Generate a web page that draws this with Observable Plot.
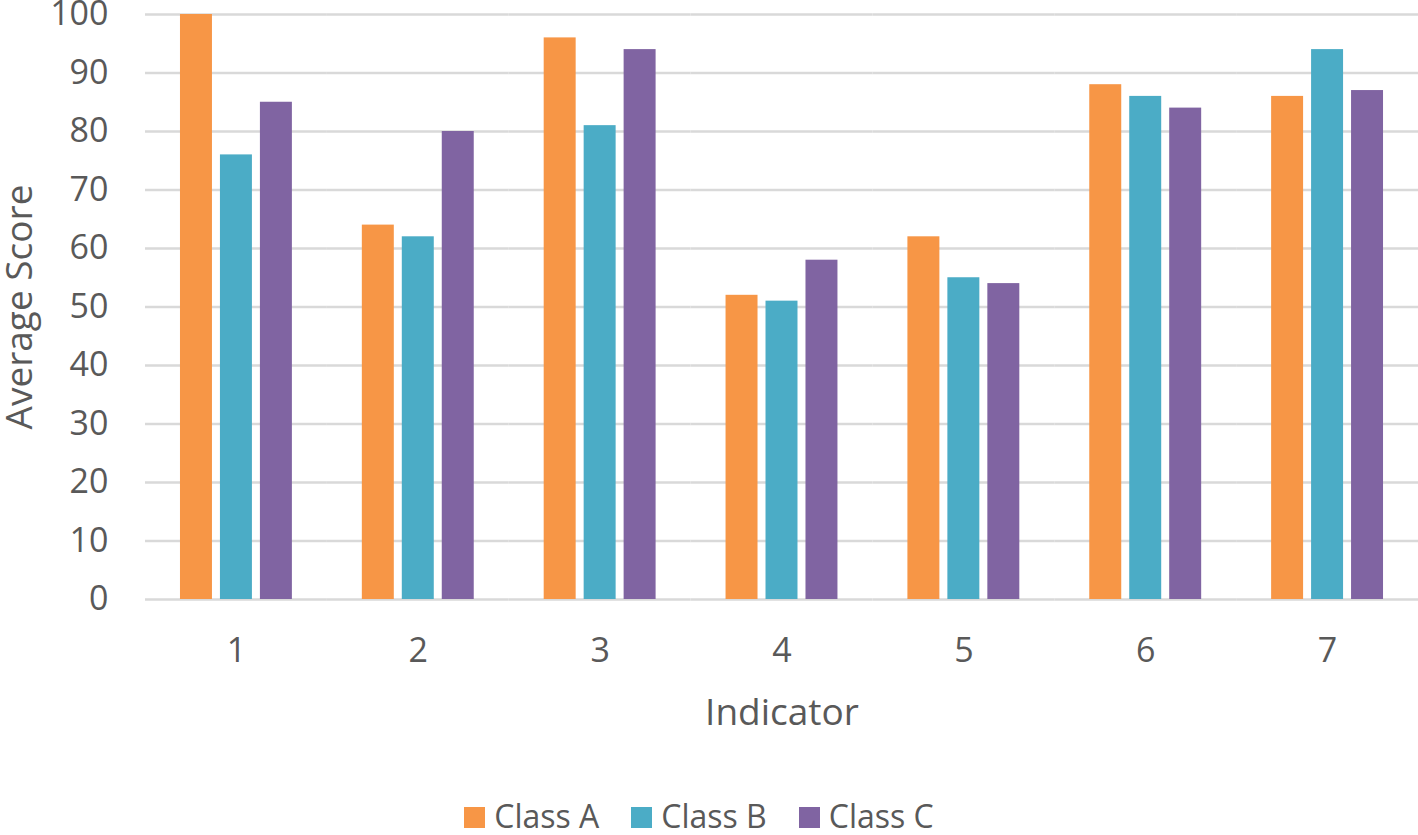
<!DOCTYPE html>
<html>
<head>
<meta charset="utf-8">
<script src="https://cdn.jsdelivr.net/npm/d3@7"></script>
<script src="https://cdn.jsdelivr.net/npm/@observablehq/plot@0.6"></script>
<style>
  html, body { margin: 0; padding: 0; background: #fff; }
  body { width: 1418px; height: 835px; overflow: hidden; font-family: "Open Sans", sans-serif; }
  #legend { display: flex; justify-content: center; align-items: center; height: 30px; margin-top: 20px; color: #595959; font-size: 32px; line-height: 30px; transform: translateX(-10px); }
  .item { display: flex; align-items: center; margin: 0 16px; }
  .sw { width: 21px; height: 21px; margin-right: 9px; margin-top: 3px; }
</style>
</head>
<body>
<div id="chart"></div>
<div id="legend"></div>
<script>
const indicators = [1, 2, 3, 4, 5, 6, 7];
const classes = ["Class A", "Class B", "Class C"];
const classA = [100, 64, 96, 52, 62, 88, 86];
const classB = [76, 62, 81, 51, 55, 86, 94];
const classC = [85, 80, 94, 58, 54, 84, 87];
const colors = ["#F79646", "#4BACC6", "#8064A2"];
const yTicks = [0, 10, 20, 30, 40, 50, 60, 70, 80, 90, 100];

const series = [classA, classB, classC];
const data = [];
indicators.forEach((ind, i) => {
  classes.forEach((c, j) => data.push({indicator: ind, cls: c, value: series[j][i]}));
});

const chart = Plot.plot({
  width: 1418,
  height: 781,
  marginTop: 14,
  marginLeft: 145,
  marginRight: 0,
  marginBottom: 182,
  style: {fontFamily: "'Open Sans', sans-serif", color: "#595959", background: "white", overflow: "visible"},
  fx: {domain: indicators, padding: 0, round: false},
  x: {domain: classes, paddingInner: 0.2, paddingOuter: 0.875, round: false, axis: null},
  y: {domain: [0, 100]},
  color: {domain: classes, range: colors},
  marks: [
    Plot.gridY(yTicks, {stroke: "#d9d9d9", strokeWidth: 2.5, strokeOpacity: 1}),
    Plot.barY(data, {fx: "indicator", x: "cls", y: "value", fill: "cls"}),
    Plot.axisY(yTicks, {tickSize: 0, tickPadding: 37, fontSize: 34, fill: "#595959",
      label: "Average Score", labelAnchor: "center", labelOffset: 140, labelArrow: "none"}),
    Plot.axisFx({anchor: "bottom", tickSize: 0, tickPadding: 38, fontSize: 34, fill: "#595959",
      label: "Indicator", labelAnchor: "center", labelOffset: 125, labelArrow: "none"})
  ]
});
document.getElementById("chart").appendChild(chart);

// axis titles slightly larger than tick labels
chart.querySelectorAll("g[aria-label='y-axis label'] text, g[aria-label='fx-axis label'] text").forEach(t => t.setAttribute("font-size", 37));

const legend = document.getElementById("legend");
classes.forEach((c, i) => {
  const item = document.createElement("div");
  item.className = "item";
  const sw = document.createElement("div");
  sw.className = "sw";
  sw.style.background = colors[i];
  const label = document.createElement("span");
  label.textContent = c;
  item.appendChild(sw);
  item.appendChild(label);
  legend.appendChild(item);
});
</script>
</body>
</html>
